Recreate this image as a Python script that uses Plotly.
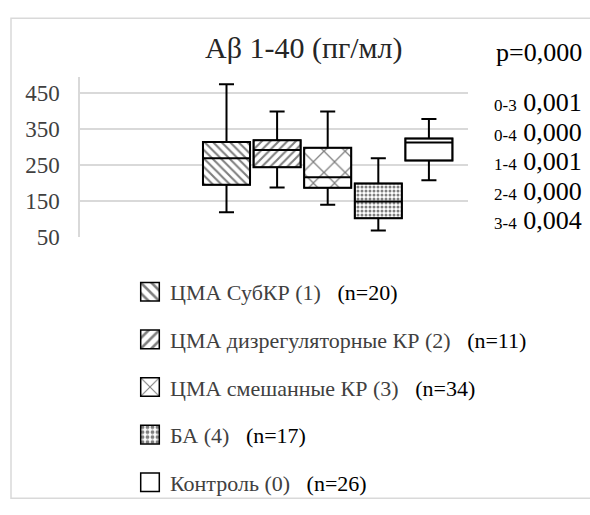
import plotly.graph_objects as go

# Group labels and sample sizes
groups = ["ЦМА СубКР (1)", "ЦМА дизрегуляторные КР (2)", "ЦМА смешанные КР (3)", "БА (4)", "Контроль (0)"]
n_sizes = [20, 11, 34, 17, 26]

# Box statistics, Aβ 1-40 (пг/мл)
lower_fence = [119, 188, 140, 68, 208]
q1 = [195, 244, 187, 102, 263]
median = [269, 292, 216, 149, 313]
q3 = [314, 319, 298, 199, 324]
upper_fence = [475, 399, 399, 269, 378]

# Fill hatching per group
patterns = ["\\", "/", "x", ".", ""]
pattern_sizes = [6, 6, 15, 4, 8]
pattern_solidity = [0.35, 0.35, 0.16, 0.45, 0.3]

# Pairwise comparisons
overall_p = "p=0,000"
pairs = ["0-3", "0-4", "1-4", "2-4", "3-4"]
pair_p = ["0,001", "0,000", "0,001", "0,000", "0,004"]

y_ticks = [50, 150, 250, 350, 450]

FONT = "Liberation Serif, Times New Roman, serif"
W, H = 590, 515
PL, PR, PT, PB = 80, 468, 77, 251  # plot area in pixels


def px_x(px):
    return (px - PL) / (PR - PL)


def px_y(py):
    return (PB - py) / (PB - PT)


fig = go.Figure()

# Patterned box bodies (also supply the legend swatches)
for i, g in enumerate(groups):
    fig.add_trace(go.Bar(
        x=[0], y=[q3[i] - q1[i]], base=[q1[i]],
        name=f"{g}\u00a0\u00a0\u00a0<span style='color:#000000'>(n={n_sizes[i]})</span>",
        legendgroup=f"g{i}",
        marker=dict(
            color="white",
            line=dict(color="black", width=1.5),
            pattern=dict(shape=patterns[i], fgcolor="black", bgcolor="white",
                         size=pattern_sizes[i], solidity=pattern_solidity[i]),
        ),
        hoverinfo="skip",
    ))

# Outlines, medians and whiskers
for i, g in enumerate(groups):
    fig.add_trace(go.Box(
        x=[0], q1=[q1[i]], median=[median[i]], q3=[q3[i]],
        lowerfence=[lower_fence[i]], upperfence=[upper_fence[i]],
        name=g, showlegend=False, legendgroup=f"g{i}",
        fillcolor="rgba(0,0,0,0)",
        line=dict(color="black", width=2),
        whiskerwidth=0.32,
        boxpoints=False,
    ))

fig.update_layout(
    width=W, height=H,
    margin=dict(l=PL, r=W - PR, t=PT, b=H - PB),
    paper_bgcolor="white", plot_bgcolor="white",
    barmode="group", bargap=0, bargroupgap=0.07,
    boxmode="group", boxgap=0, boxgroupgap=0.07,
    font=dict(family=FONT, color="#404040"),
    xaxis=dict(range=[-0.979, 0.5545], visible=False, fixedrange=True),
    yaxis=dict(
        range=[50, 495], tickvals=y_ticks, ticktext=[str(v) for v in y_ticks],
        showgrid=True, gridcolor="#d9d9d9", gridwidth=1.5,
        showline=True, linecolor="#d9d9d9", linewidth=1.5,
        zeroline=False, ticks="", ticklabelstandoff=14,
        tickfont=dict(family=FONT, size=23, color="#404040"),
    ),
    showlegend=True,
    legend=dict(
        x=px_x(130), xanchor="left", y=px_y(288), yanchor="top",
        font=dict(family=FONT, size=22, color="#404040"),
        tracegroupgap=16, bgcolor="rgba(0,0,0,0)", borderwidth=0,
    ),
)

# Chart-area border (left and top edges)
fig.add_shape(type="rect", xref="paper", yref="paper",
              x0=px_x(11), x1=px_x(W + 20), y0=px_y(H + 20), y1=px_y(13),
              line=dict(color="#d9d9d9", width=1.5), layer="below")

# Title
fig.add_annotation(xref="paper", yref="paper", x=px_x(304), y=px_y(45),
                   text="Aβ 1-40 (пг/мл)", showarrow=False,
                   xanchor="center", yanchor="middle",
                   font=dict(family=FONT, size=30, color="#262626"))

# Significance block
fig.add_annotation(xref="paper", yref="paper", x=px_x(584), y=px_y(50),
                   text=overall_p, showarrow=False, xanchor="right", yanchor="middle",
                   font=dict(family=FONT, size=26, color="#000000"))
row_y = [105, 137, 169, 201, 233]
for lab, pv, yy in zip(pairs, pair_p, row_y):
    fig.add_annotation(xref="paper", yref="paper", x=px_x(584), y=px_y(yy),
                       text=f"<span style='font-size:17px'>{lab}</span> {pv}",
                       showarrow=False, xanchor="right", yanchor="middle",
                       font=dict(family=FONT, size=26, color="#000000"))

# Larger legend swatches (keeps the swatch's own placement transform)
post = """
var gd = document.getElementById('{plot_id}');
function growSwatches() {
  gd.querySelectorAll('.legend .legendpoints path').forEach(function (p) {
    if (p.getAttribute('data-grown') === '1') return;
    var base = p.getAttribute('transform') || '';
    p.setAttribute('transform', base + ' scale(1.55)');
    p.setAttribute('data-grown', '1');
    p.style.vectorEffect = 'non-scaling-stroke';
  });
}
growSwatches();
gd.on('plotly_afterplot', growSwatches);
"""

fig.write_html("out.html", post_script=post)
